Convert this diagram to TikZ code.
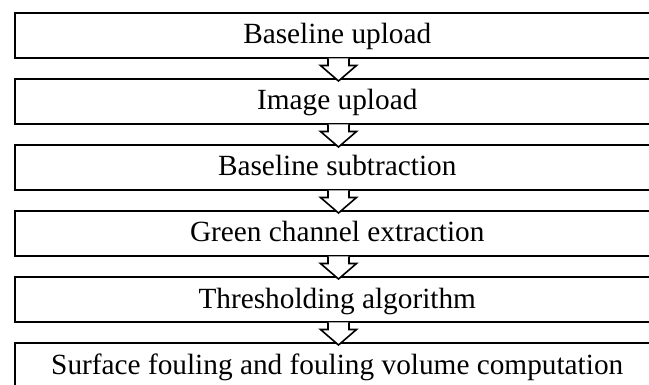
\documentclass[tikz,border=0pt]{standalone}
\usepackage{fontspec}
\setmainfont{Liberation Serif}
\usetikzlibrary{calc}
\begin{document}
\begin{tikzpicture}[x=0.5pt,y=-0.5pt,
  stepbox/.style={draw=black, line width=1pt, rectangle, anchor=north west,
    minimum width=322.75pt, minimum height=22.75pt, inner sep=0pt,
    text height=9.5pt, text depth=1.25pt,
    font=\fontsize{14.65pt}{17pt}\selectfont},
  flowarrow/.style={draw=black, line width=0.8pt, fill=white, line join=miter}]
  \useasboundingbox (0,0) rectangle (649,385);
  % process steps, top to bottom
  \node[stepbox] (s1) at (13.5,12)  {Baseline upload};
  \node[stepbox] (s2) at (13.5,78)  {Image upload};
  \node[stepbox] (s3) at (13.5,144) {Baseline subtraction};
  \node[stepbox] (s4) at (13.5,210) {Green channel extraction};
  \node[stepbox] (s5) at (13.5,276) {Thresholding algorithm};
  \node[stepbox] (s6) at (13.5,342) {Surface fouling and fouling volume computation};
  % vertical axis of the block arrows
  \coordinate (axis) at (338.5,0);
  % hollow block arrows between consecutive steps
  \foreach \a/\b in {s1/s2,s2/s3,s3/s4,s4/s5,s5/s6} {
    \coordinate (top) at (\a.south -| axis);
    \coordinate (tip) at ($(\b.north -| axis)+(0,3)$);
    \draw[flowarrow] ($(top)+(-10.5,-1.2)$) -- ($(top)+(-10.5,6)$)
      -- ($(top)+(-18,6)$) -- (tip) -- ($(top)+(18,6)$)
      -- ($(top)+(10.5,6)$) -- ($(top)+(10.5,-1.2)$);
  }
\end{tikzpicture}
\end{document}
